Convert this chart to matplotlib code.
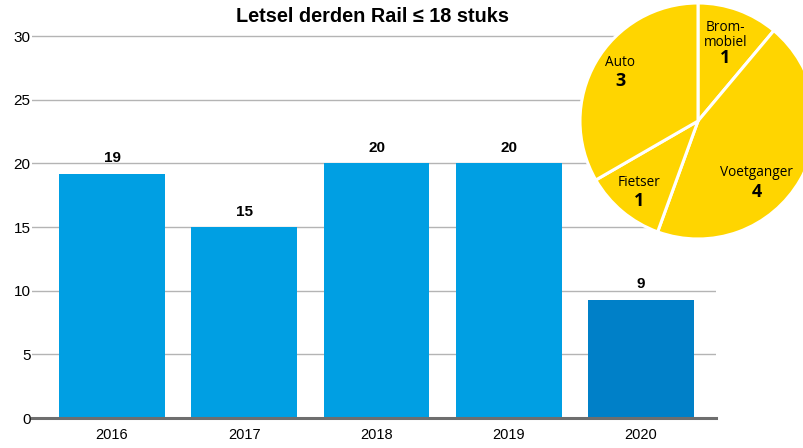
import numpy as np
import matplotlib
matplotlib.use('Agg')
import matplotlib.pyplot as plt

# bar data
years = ['2016', '2017', '2018', '2019', '2020']
values = [19.2, 15, 20, 20, 9.3]
value_labels = ['19', '15', '20', '20', '9']
bar_colors = ['#009FE3', '#009FE3', '#009FE3', '#009FE3', '#0080C8']

# pie data
pie_names = ['Brom-\nmobiel', 'Voetganger', 'Fietser', 'Auto']
pie_counts = [1, 4, 1, 3]
# label positions inside the pie (pie coords, radius 1)
name_pos = [(0.23, 0.73), (0.50, -0.44), (-0.50, -0.52), (-0.66, 0.50)]
count_pos = [(0.23, 0.53), (0.50, -0.60), (-0.50, -0.68), (-0.66, 0.34)]

sans = ['Liberation Sans', 'DejaVu Sans']

fig = plt.figure(figsize=(8.04, 4.48), dpi=100)

# bar chart
ax = fig.add_axes([32 / 804, 1 - 418 / 448, (716 - 32) / 804, (418 - 32.2) / 448])
x = np.arange(len(years))
ax.bar(x, values, width=0.8, color=bar_colors, zorder=2)
for xi, v, lab in zip(x, values, value_labels):
    ax.annotate(lab, (xi, v), xytext=(0, 11), textcoords='offset points',
                ha='center', va='center', fontsize=11, fontweight='bold',
                family=sans)

ax.set_xlim(-0.605, 4.567)
ax.set_ylim(0, 30.3)
ax.set_yticks([0, 5, 10, 15, 20, 25, 30])
ax.set_xticks(x)
ax.set_xticklabels(years, family=sans, fontsize=10.5)
ax.set_yticklabels(['0', '5', '10', '15', '20', '25', '30'], family=sans, fontsize=11)
ax.tick_params(axis='both', length=0, pad=7)
ax.tick_params(axis='y', pad=1)
ax.grid(axis='y', color='#b4b4b4', linewidth=1)
ax.set_axisbelow(True)
for s in ['top', 'right', 'left']:
    ax.spines[s].set_visible(False)
ax.spines['bottom'].set_color('#6e6e6e')
ax.spines['bottom'].set_linewidth(2.2)
ax.spines['bottom'].set_zorder(3)

fig.text(373 / 804, 1 - 17 / 448, 'Letsel derden Rail ≤ 18 stuks', ha='center', va='center',
         fontsize=14.3, fontweight='bold', family=sans)

# pie inset
pax = fig.add_axes([(698 - 118) / 804, (448 - 121 - 118) / 448, 236 / 804, 236 / 448])
pax.pie(pie_counts, startangle=90, counterclock=False, colors=['#FFD500'] * 4,
        wedgeprops=dict(edgecolor='white', linewidth=2.2))
pax.set_xlim(-1, 1)
pax.set_ylim(-1, 1)
pax.set_aspect('equal')
pax.axis('off')
for name, n, npos, cpos in zip(pie_names, pie_counts, name_pos, count_pos):
    pax.text(npos[0], npos[1], name, ha='center', va='center', fontsize=9.8,
             linespacing=1.0, family=['Open Sans', 'DejaVu Sans'])
    pax.text(cpos[0], cpos[1], str(n), ha='center', va='center', fontsize=13,
             fontweight='bold', family=['Open Sans', 'DejaVu Sans'])

fig.savefig('out.png', dpi=100)
